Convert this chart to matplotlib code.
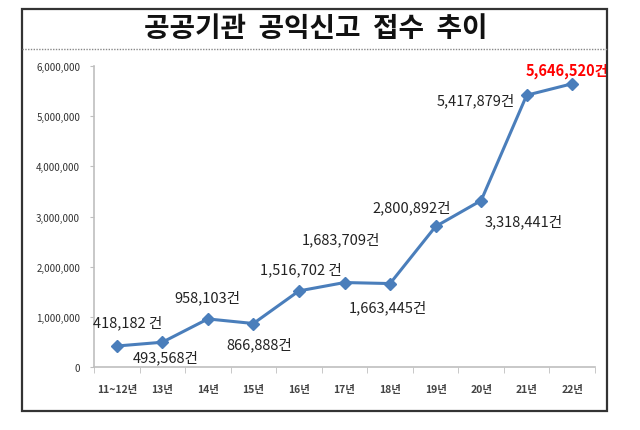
import matplotlib
matplotlib.use('Agg')
import matplotlib.pyplot as plt
from matplotlib.patches import Rectangle
from matplotlib.lines import Line2D

plt.rcParams['font.family'] = ['Noto Sans CJK KR', 'DejaVu Sans']

years = ['11~12년', '13년', '14년', '15년', '16년', '17년', '18년', '19년', '20년', '21년', '22년']
counts = [418182, 493568, 958103, 866888, 1516702, 1683709, 1663445, 2800892, 3318441, 5417879, 5646520]
labels = ['418,182 건', '493,568건', '958,103건', '866,888건', '1,516,702 건', '1,683,709건',
          '1,663,445건', '2,800,892건', '3,318,441건', '5,417,879건', '5,646,520건']
# label offsets in pixels from the point
offs = [(11, 24), (3, -15), (0, 22), (6, -20), (2, 22), (-4, 44),
        (-2, -23), (-24, 20), (43, -20), (-51, -5), (-5, 14)]

W, H = 640, 431
fig = plt.figure(figsize=(W / 100, H / 100), dpi=100)

## outer frame + dotted separator under the title
fig.patches.append(Rectangle((22 / W, 1 - 412 / H), 585 / W, 402 / H, transform=fig.transFigure,
                             fill=False, edgecolor='#333333', lw=1.6))
fig.lines.append(Line2D([22 / W, 607 / W], [1 - 50 / H, 1 - 50 / H], transform=fig.transFigure,
                        color='#888888', lw=1, ls=(0, (1, 1))))
fig.text(316 / W, 1 - 29 / H, '공공기관  공익신고  접수  추이', ha='center', va='center',
         fontsize=20, fontweight='bold', color='#111111')

ax = fig.add_axes([94 / W, 1 - 368 / H, 501 / W, 301 / H])
x = list(range(len(years)))
ax.plot(x, counts, color='#4a7ebb', lw=2.2, marker='D', ms=6.5, mfc='#4a7ebb', mec='#4a7ebb')

for i in x:
    red = i == len(x) - 1
    ax.annotate(labels[i], (x[i], counts[i]), xytext=offs[i], textcoords='offset pixels',
                ha='center', va='center', fontsize=10.5,
                color='#ff0000' if red else '#222222', fontweight='bold' if red else 'normal')

ax.set_xlim(-0.5, len(years) - 0.5)
ax.set_ylim(0, 6000000)
ax.set_yticks(range(0, 6000001, 1000000))
ax.set_yticklabels(['{:,}'.format(v) for v in range(0, 6000001, 1000000)], fontsize=7, color='#333333')
ax.set_xticks(x)
ax.set_xticklabels(years, fontsize=7.5, color='#444444', fontweight='bold')
ax.set_xticks([i - 0.5 for i in range(len(years) + 1)], minor=True)
ax.tick_params(axis='x', which='major', length=0, pad=12)
ax.tick_params(axis='x', which='minor', length=4, color='#bfbfbf', direction='out')
ax.tick_params(axis='y', length=3, color='#bfbfbf', pad=7)
for s in ['top', 'right']:
    ax.spines[s].set_visible(False)
for s in ['left', 'bottom']:
    ax.spines[s].set_color('#bfbfbf')
    ax.spines[s].set_linewidth(1.2)

plt.savefig('out.png', dpi=100)
